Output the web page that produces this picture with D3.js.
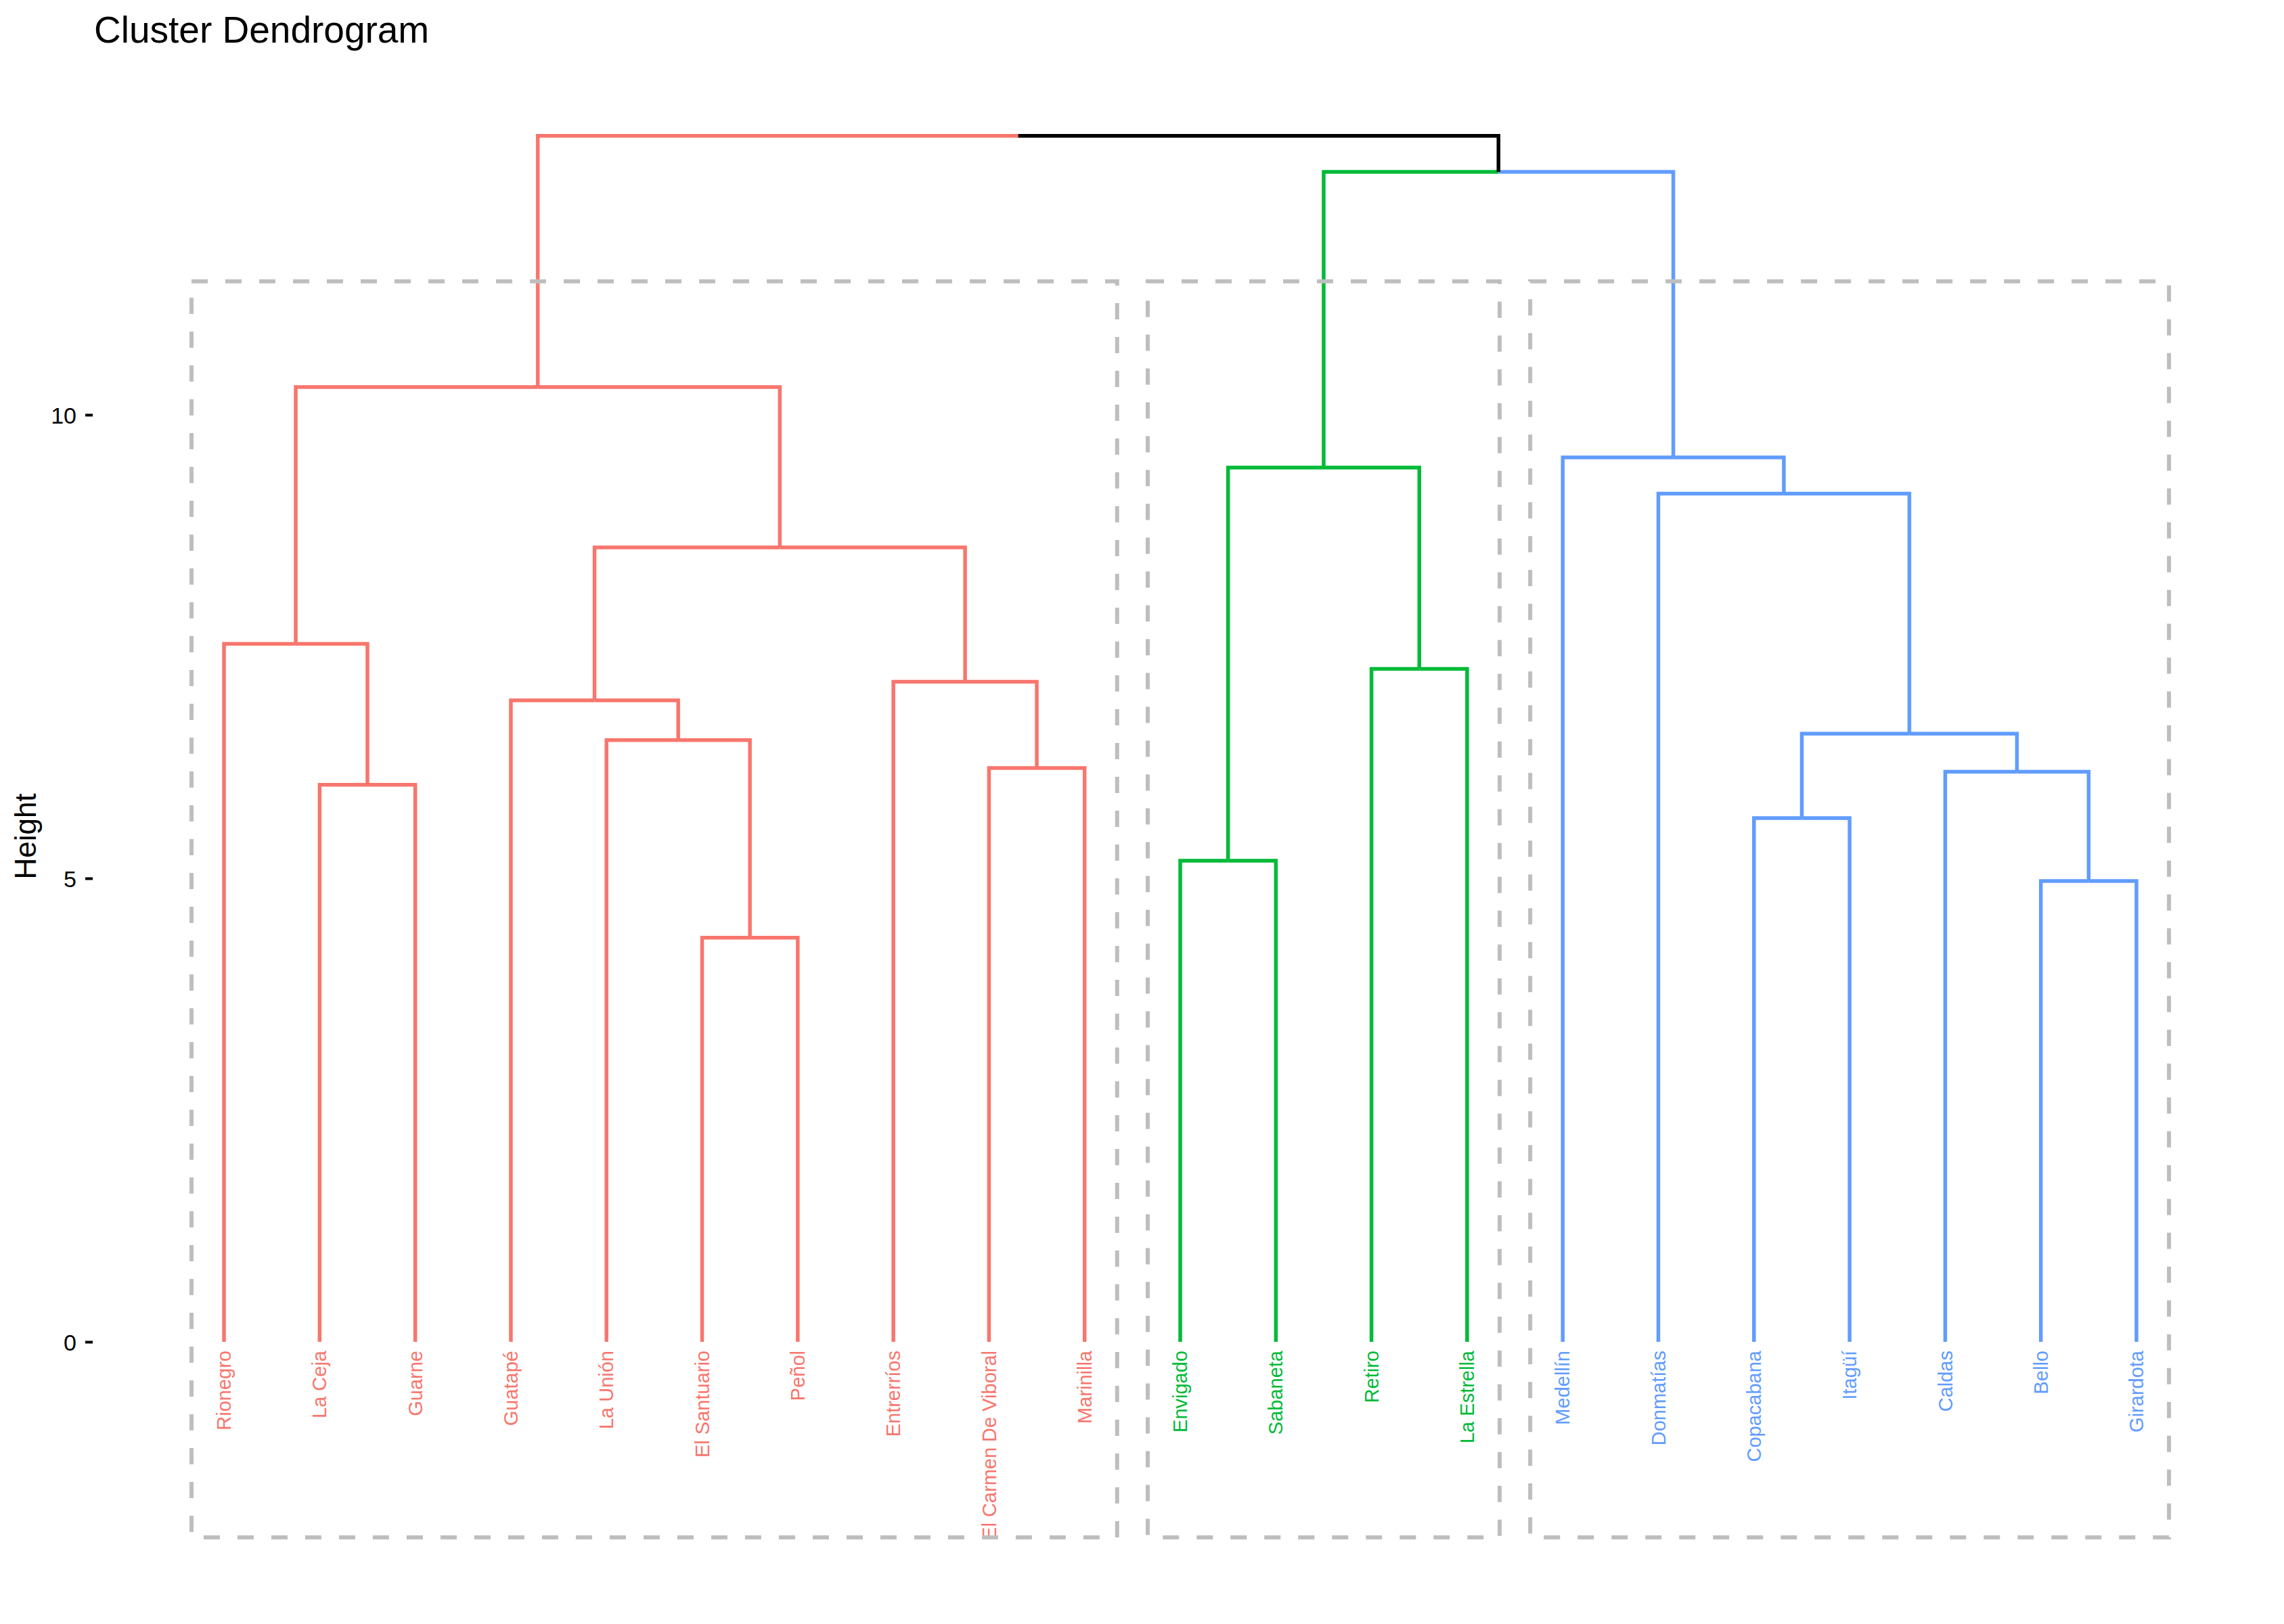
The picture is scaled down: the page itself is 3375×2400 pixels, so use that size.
<!DOCTYPE html>
<html><head><meta charset="utf-8">
<script src="https://cdn.jsdelivr.net/npm/d3@7"></script>
<style>body{margin:0;background:#fff}</style>
</head><body><svg id="chart" width="3375" height="2400"></svg>
<script>
// Leaves in display order
const leafLabels = ["Rionegro","La Ceja","Guarne","Guatapé","La Unión","El Santuario","Peñol",
  "Entrerríos","El Carmen De Viboral","Marinilla","Envigado","Sabaneta","Retiro","La Estrella",
  "Medellín","Donmatías","Copacabana","Itagüí","Caldas","Bello","Girardota"];
const leafCluster = [1,1,1,1,1,1,1,1,1,1,2,2,2,2,3,3,3,3,3,3,3];
// hclust-style merges: negative = leaf (1-based display index), positive = earlier merge step
const mergePairs = [[-6,-7],[-20,-21],[-11,-12],[-17,-18],[-2,-3],[-19,2],[-9,-10],[-5,1],[4,6],
  [-4,8],[-8,7],[-13,-14],[-1,5],[10,11],[-16,9],[3,12],[-15,15],[13,14],[16,17],[18,19]];
const mergeHeights = [4.36,4.97,5.19,5.65,6.01,6.15,6.19,6.49,6.56,6.92,7.12,7.26,7.53,8.57,
  9.15,9.43,9.54,10.30,12.62,13.01];
const clusterColors = ["#F8766D","#00BA38","#619CFF"];
const yTicks = [0,5,10];
const rectTop = 11.44, rectBottom = -2.11, rectPad = 0.34;

const svg = d3.select("#chart");
const x = d3.scaleLinear().domain([1, leafLabels.length]).range([331, 3157]);
const y = d3.scaleLinear().domain([0, 10]).range([1983, 613]);
const font = "'Liberation Sans', Arial, Helvetica, sans-serif";

// Build tree
const leaves = leafLabels.map((l, i) => ({x: i + 1, h: 0, cluster: leafCluster[i], label: l}));
const nodes = [];
const get = r => r < 0 ? leaves[-r - 1] : nodes[r - 1];
mergePairs.forEach((p, i) => {
  const a = get(p[0]), b = get(p[1]);
  nodes.push({x: (a.x + b.x) / 2, h: mergeHeights[i],
    cluster: a.cluster && a.cluster === b.cluster ? a.cluster : null, children: [a, b]});
});

// Title
svg.append("text").attr("x", 139).attr("y", 63).attr("font-family", font)
  .attr("font-size", 55).attr("fill", "#000").text("Cluster Dendrogram");

// Y axis
const yAxis = d3.axisLeft(y).tickValues(yTicks).tickSize(11).tickPadding(13).tickFormat(d3.format("d"));
const ga = svg.append("g").attr("transform", "translate(137,0)").call(yAxis);
ga.select(".domain").remove();
ga.selectAll(".tick line").attr("stroke", "#000").attr("stroke-width", 4);
ga.selectAll(".tick text").attr("font-family", font).attr("font-size", 34).attr("fill", "#000")
  .attr("dy", "0.36em");

svg.append("text").attr("transform", "translate(53,1236) rotate(-90)")
  .attr("text-anchor", "middle").attr("font-family", font).attr("font-size", 44)
  .attr("fill", "#000").text("Height");

// Dendrogram segments
const segs = [];
nodes.forEach(n => n.children.forEach(c => segs.push({n, c})));
svg.append("g").selectAll("path").data(segs).join("path")
  .attr("d", d => `M${x(d.n.x)},${y(d.n.h)}H${x(d.c.x)}V${y(d.c.h)}`)
  .attr("fill", "none")
  .attr("stroke", d => d.c.cluster ? clusterColors[d.c.cluster - 1] : "#000")
  .attr("stroke-width", 5.5)
  .attr("stroke-linejoin", "miter")
  .attr("stroke-linecap", "butt");

// Leaf labels
svg.append("g").selectAll("text").data(leaves).join("text")
  .attr("transform", d => `translate(${x(d.x)},1996) rotate(-90)`)
  .attr("text-anchor", "end").attr("dy", "0.35em")
  .attr("font-family", font).attr("font-size", 29)
  .attr("fill", d => clusterColors[d.cluster - 1])
  .text(d => d.label);

// Cluster rectangles
const clusters = d3.groups(leaves, d => d.cluster);
svg.append("g").selectAll("rect").data(clusters).join("rect")
  .attr("x", d => x(d3.min(d[1], l => l.x) - rectPad))
  .attr("width", d => x(d3.max(d[1], l => l.x) + rectPad) - x(d3.min(d[1], l => l.x) - rectPad))
  .attr("y", y(rectTop))
  .attr("height", y(rectBottom) - y(rectTop))
  .attr("fill", "none").attr("stroke", "#BEBEBE").attr("stroke-width", 6)
  .attr("stroke-dasharray", "24,26");
</script></body></html>
